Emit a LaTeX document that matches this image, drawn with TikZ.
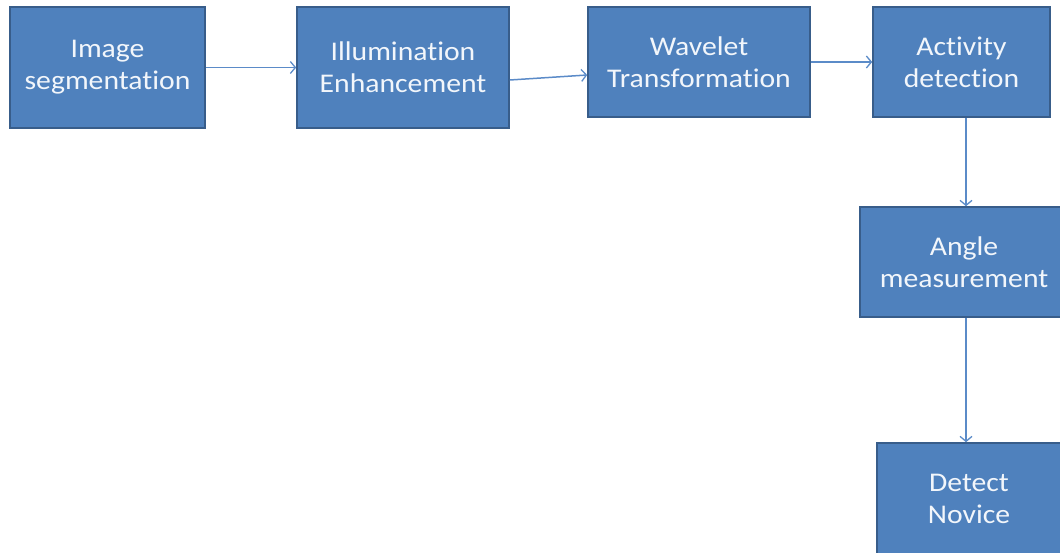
\documentclass[tikz,border=0pt]{standalone}
\usepackage{fontspec}
\setmainfont{Carlito}[Ligatures=NoCommon, FakeStretch=1.1]
\usetikzlibrary{arrows.meta}
\definecolor{boxfill}{HTML}{4F81BD}
\definecolor{boxedge}{HTML}{385D8A}
\definecolor{arrowc}{HTML}{5B8BC8}
\definecolor{txt}{HTML}{F2F6FB}
\begin{document}
\begin{tikzpicture}[x=1pt,y=-1pt,
  blk/.style={draw=boxedge, fill=boxfill, line width=1.6pt, inner sep=0pt,
    text=txt, align=center, font=\fontsize{27}{32}\selectfont},
  arr/.style={draw=arrowc, line width=1.5pt, -{Straight Barb[length=5pt,width=12pt,line width=1.3pt]}}]
\useasboundingbox (0,0) rectangle (1060,552);
\begin{scope}
\clip (0,0) rectangle (1060,552);
\node[blk, minimum width=195pt, minimum height=121pt] (a) at (107.5,67.5) {Image\\segmentation};
\node[blk, minimum width=212pt, minimum height=121pt] (b) at (403,67.5) {Illumination\\Enhancement};
\node[blk, minimum width=222pt, minimum height=110pt] (c) at (699,62) {Wavelet\\Transformation};
\node[blk, minimum width=177pt, minimum height=110pt] (d) at (961.5,62) {Activity\\detection};
\node[blk, minimum width=208pt, minimum height=110pt] (e) at (964,262) {Angle\\measurement};
\node[blk, minimum width=184pt, minimum height=112pt] (f) at (969,499) {Detect\\Novice};
\end{scope}
\draw[arr] (a.east) -- (b.west);
\draw[arr] ([yshift=-12.5pt]b.east) -- ([yshift=-13pt]c.west);
\draw[arr] (c.east) -- (d.west);
\draw[arr] (d.south -| 966,0) -- (e.north -| 966,0);
\draw[arr] (e.south -| 966,0) -- (f.north -| 966,0);
\end{tikzpicture}
\end{document}
